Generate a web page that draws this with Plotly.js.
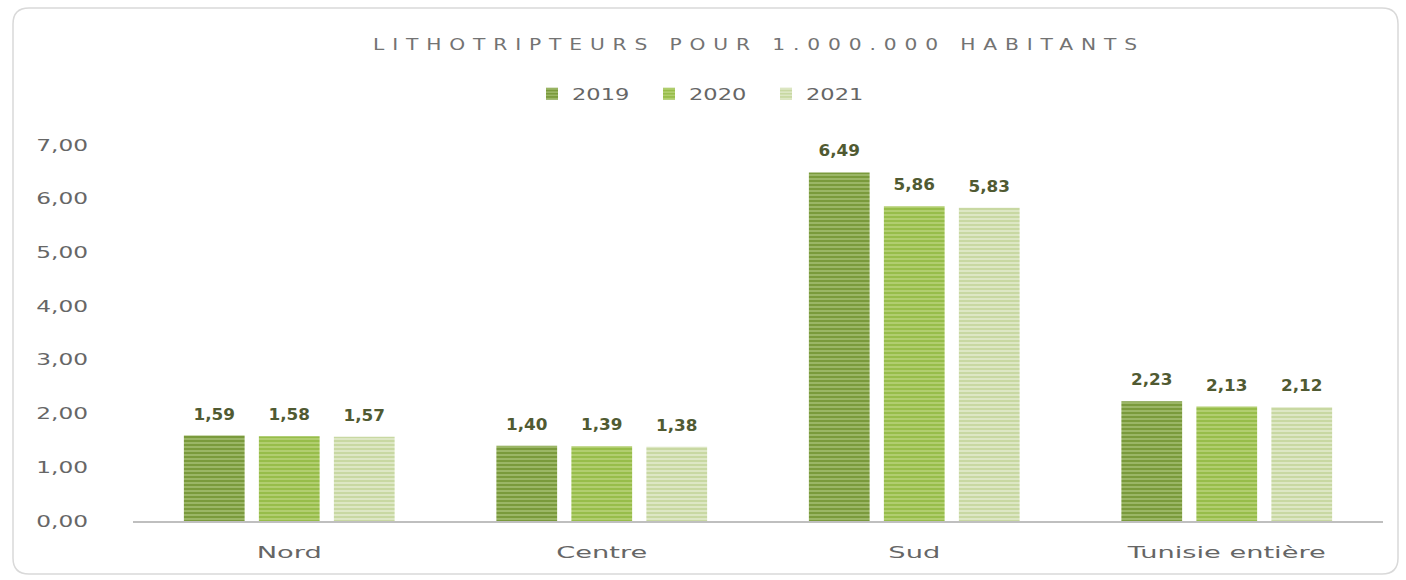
<!DOCTYPE html>
<html>
<head>
<meta charset="utf-8">
<script src="https://cdn.plot.ly/plotly-3.0.1.min.js"></script>
<style>
  html, body { margin: 0; padding: 0; background: #ffffff; }
  #chart { width: 1406px; height: 580px; }
</style>
</head>
<body>
<div id="chart"></div>
<script>
const categories = ["Nord", "Centre", "Sud", "Tunisie entière"];
const seriesNames = ["2019", "2020", "2021"];
const values2019 = [1.59, 1.40, 6.49, 2.23];
const values2020 = [1.58, 1.39, 5.86, 2.13];
const values2021 = [1.57, 1.38, 5.83, 2.12];
const yTicks = [0, 1, 2, 3, 4, 5, 6, 7];

const seriesValues = [values2019, values2020, values2021];
const bgColors = ["#7a9a3c", "#97bd4a", "#c8d8a2"];
const fgColors = ["#a9c278", "#bcd67f", "#e6eed3"];

const traces = seriesValues.map((vals, i) => ({
  type: "bar",
  name: seriesNames[i],
  x: categories,
  y: vals,
  marker: {
    color: bgColors[i],
    pattern: { shape: "-", fgcolor: fgColors[i], bgcolor: bgColors[i], size: 4, solidity: 0.35, fillmode: "replace" },
    line: { width: 0 }
  },
  texttemplate: "%{y:.2f}",
  textposition: "outside",
  cliponaxis: false,
  textfont: { family: "DejaVu Sans", size: 15, color: "#505a32", weight: "bold" },
  hoverinfo: "x+y+name"
}));

// frame helper: pixel -> paper
const L = 133, R = 1383, T = 145, B = 521;
const px = v => (v - L) / (R - L);
const py = v => (B - v) / (B - T);
const fx0 = 13, fx1 = 1398, fy0 = 8, fy1 = 574, rr = 16;
const framePath =
  `M ${px(fx0 + rr)} ${py(fy0)} L ${px(fx1 - rr)} ${py(fy0)} ` +
  `Q ${px(fx1)} ${py(fy0)} ${px(fx1)} ${py(fy0 + rr)} ` +
  `L ${px(fx1)} ${py(fy1 - rr)} Q ${px(fx1)} ${py(fy1)} ${px(fx1 - rr)} ${py(fy1)} ` +
  `L ${px(fx0 + rr)} ${py(fy1)} Q ${px(fx0)} ${py(fy1)} ${px(fx0)} ${py(fy1 - rr)} ` +
  `L ${px(fx0)} ${py(fy0 + rr)} Q ${px(fx0)} ${py(fy0)} ${px(fx0 + rr)} ${py(fy0)} Z`;

const layout = {
  width: 1406,
  height: 580,
  margin: { l: L, r: 1406 - R, t: T, b: 580 - B },
  paper_bgcolor: "#ffffff",
  plot_bgcolor: "#ffffff",
  separators: ", ",
  font: { family: "DejaVu Sans", color: "#595959" },
  title: {
    text: "LITHOTRIPTEURS POUR 1.000.000 HABITANTS",
    font: { family: "DejaVu Sans", size: 15, color: "#737373" },
    x: px(755), xref: "paper", xanchor: "center",
    y: 1 - 45 / 580, yref: "container", yanchor: "middle"
  },
  showlegend: true,
  legend: {
    orientation: "h",
    x: px(532), xanchor: "left", xref: "paper",
    y: 1 - 94 / 580, yref: "container", yanchor: "middle",
    font: { family: "DejaVu Sans", size: 15, color: "#666666" },
    entrywidth: 72, entrywidthmode: "pixels",
    itemwidth: 30,
    traceorder: "normal"
  },
  bargap: 0.28,
  bargroupgap: 0.19,
  xaxis: {
    type: "category",
    showline: true, linecolor: "#bfbfbf", linewidth: 2,
    ticks: "", showgrid: false,
    tickfont: { family: "DejaVu Sans", size: 16, color: "#666666" },
    ticklabelstandoff: 16
  },
  yaxis: {
    range: [0, 7],
    tickvals: yTicks,
    tickformat: ".2f",
    showgrid: false, zeroline: false, showline: false,
    ticks: "",
    tickfont: { family: "DejaVu Sans", size: 16, color: "#666666" },
    ticklabelstandoff: 44
  },
  shapes: [{
    type: "path", xref: "paper", yref: "paper", path: framePath,
    line: { color: "#d9d9d9", width: 1.5 }, fillcolor: "rgba(0,0,0,0)", layer: "below"
  }]
};

function stretch(selector, factor) {
  document.querySelectorAll(selector).forEach(el => {
    const w = el.getComputedTextLength();
    if (w > 0) {
      el.setAttribute("textLength", (w * factor).toFixed(1));
      el.setAttribute("lengthAdjust", "spacingAndGlyphs");
    }
  });
}

Plotly.newPlot("chart", traces, layout, { displayModeBar: false, staticPlot: true }).then(() => {
  stretch("#chart .xtick text", 1.7);
  stretch("#chart .ytick text", 1.45);
  stretch("#chart .legendtext", 1.5);
  stretch("#chart .bartext", 1.12);
  const t = document.querySelector("#chart .gtitle");
  if (t) {
    // widen glyphs moderately, then distribute the remaining width as letter spacing
    const w = t.getComputedTextLength();
    t.setAttribute("transform", `translate(${px(755) * (R - L) + L},0) scale(1.35,1) translate(${-(px(755) * (R - L) + L)},0)`);
    t.setAttribute("textLength", (764 / 1.35).toFixed(1));
    t.setAttribute("lengthAdjust", "spacing");
  }
  document.querySelectorAll("#chart .bartext").forEach(el => {
    const tr = el.getAttribute("transform") || "";
    el.setAttribute("transform", "translate(0,-9) " + tr);
  });
});
</script>
</body>
</html>
